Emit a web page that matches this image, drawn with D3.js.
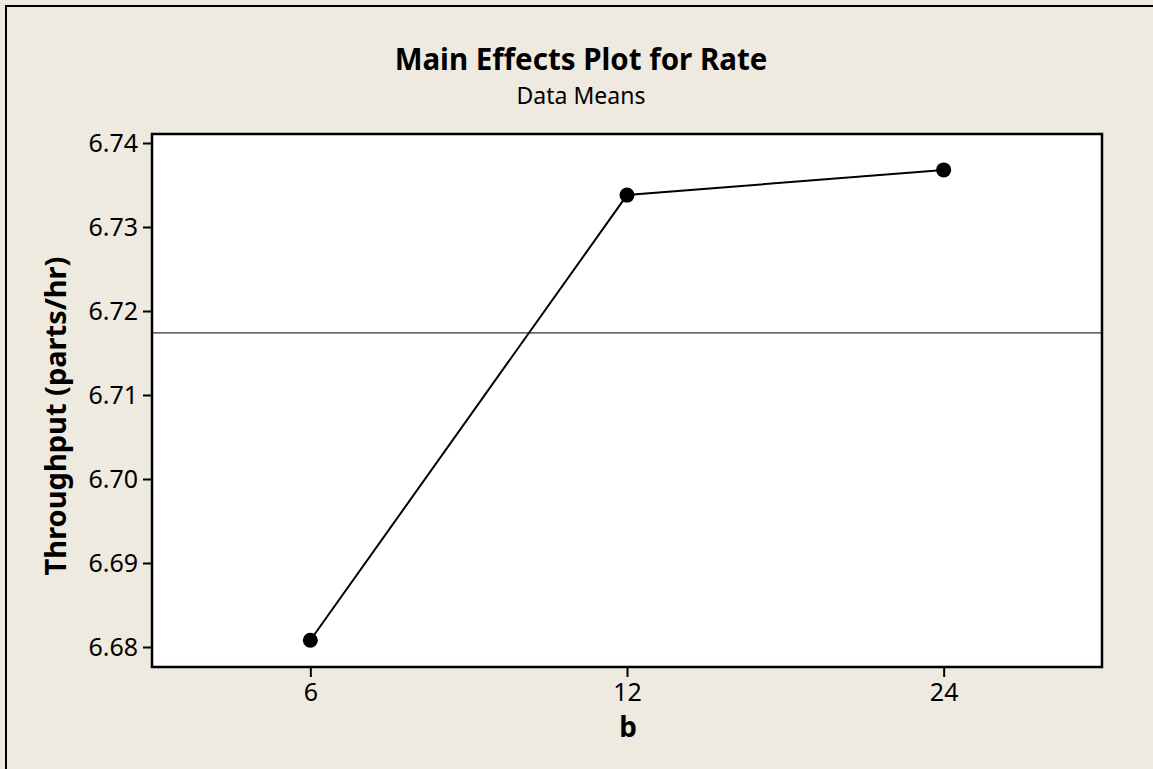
<!DOCTYPE html>
<html>
<head>
<meta charset="utf-8">
<script src="https://cdn.jsdelivr.net/npm/d3@7"></script>
<style>
html,body{margin:0;padding:0;background:#EEEAE0;}
svg{display:block;}
</style>
</head>
<body>
<script>
const categories = ["6", "12", "24"];
const means = [6.6808, 6.7338, 6.7368];
const grandMean = 6.7174;
const yTicks = [6.68, 6.69, 6.70, 6.71, 6.72, 6.73, 6.74];
const titleText = "Main Effects Plot for Rate";
const subtitleText = "Data Means";
const xLabel = "b";
const yLabel = "Throughput (parts/hr)";

const W = 1153, H = 769;
const plot = {left: 152, top: 134, right: 1102, bottom: 667};
const font = "'Noto Sans', sans-serif";

const svg = d3.select("body").append("svg").attr("width", W).attr("height", H);

svg.append("rect").attr("x", 0).attr("y", 0).attr("width", W).attr("height", H).attr("fill", "#EEEAE0");
svg.append("rect").attr("x", 6).attr("y", 6).attr("width", W + 20).attr("height", H + 20)
  .attr("fill", "none").attr("stroke", "#000").attr("stroke-width", 2);

const x = d3.scalePoint().domain(categories).range([plot.left, plot.right]).padding(0.5);
const y = d3.scaleLinear().domain([6.68, 6.74]).range([647, 143]);

svg.append("rect").attr("x", plot.left).attr("y", plot.top)
  .attr("width", plot.right - plot.left).attr("height", plot.bottom - plot.top)
  .attr("fill", "#fff");

// grand mean reference line
svg.append("line").attr("x1", plot.left).attr("x2", plot.right)
  .attr("y1", y(grandMean)).attr("y2", y(grandMean))
  .attr("stroke", "#333").attr("stroke-width", 1.2);

const pts = categories.map((c, i) => [x(c), y(means[i])]);
svg.append("path").attr("d", d3.line()(pts)).attr("fill", "none")
  .attr("stroke", "#000").attr("stroke-width", 2);
svg.selectAll("circle.pt").data(pts).enter().append("circle")
  .attr("cx", d => d[0]).attr("cy", d => d[1]).attr("r", 7.5).attr("fill", "#000");

svg.append("rect").attr("x", plot.left).attr("y", plot.top)
  .attr("width", plot.right - plot.left).attr("height", plot.bottom - plot.top)
  .attr("fill", "none").attr("stroke", "#000").attr("stroke-width", 2.5);

// axes
const yAxis = d3.axisLeft(y).tickValues(yTicks).tickFormat(d3.format(".2f")).tickSize(9).tickPadding(5);
const gy = svg.append("g").attr("transform", `translate(${plot.left},0)`).call(yAxis);
gy.select(".domain").remove();
gy.selectAll(".tick line").attr("stroke", "#000").attr("stroke-width", 2);
gy.selectAll(".tick text").attr("font-family", font).attr("font-size", 25).attr("fill", "#000")
  .attr("dy", "0.34em");

const xAxis = d3.axisBottom(x).tickSize(10).tickPadding(6);
const gx = svg.append("g").attr("transform", `translate(0,${plot.bottom})`).call(xAxis);
gx.select(".domain").remove();
gx.selectAll(".tick line").attr("stroke", "#000").attr("stroke-width", 2);
gx.selectAll(".tick text").attr("font-family", font).attr("font-size", 25).attr("fill", "#000");

// titles
svg.append("text").attr("x", 581).attr("y", 70).attr("text-anchor", "middle")
  .attr("font-family", font).attr("font-weight", "bold").attr("font-size", 29.5).text(titleText);
svg.append("text").attr("x", 581).attr("y", 104).attr("text-anchor", "middle")
  .attr("font-family", font).attr("font-size", 23).text(subtitleText);
svg.append("text").attr("x", 628).attr("y", 737).attr("text-anchor", "middle")
  .attr("font-family", font).attr("font-weight", "bold").attr("font-size", 28).text(xLabel);
svg.append("text").attr("transform", `translate(66,416) rotate(-90)`)
  .attr("text-anchor", "middle")
  .attr("font-family", font).attr("font-weight", "bold").attr("font-size", 29).text(yLabel);
</script>
</body>
</html>
